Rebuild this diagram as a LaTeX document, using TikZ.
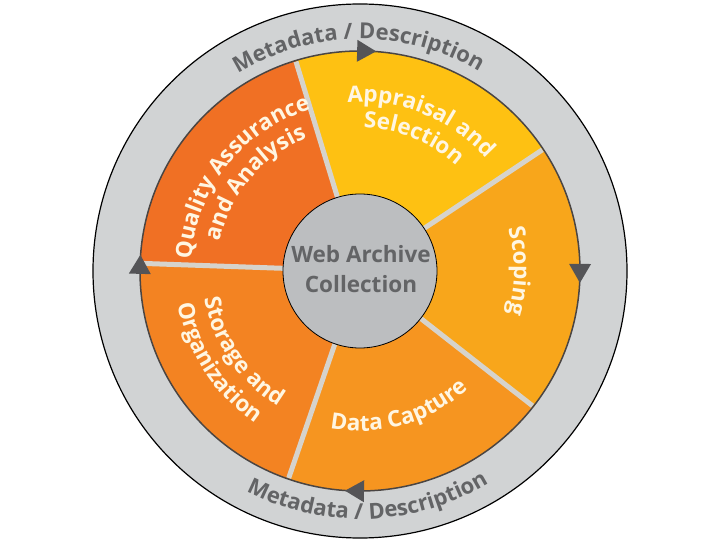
\documentclass[tikz,border=0pt]{standalone}
\usepackage{fontspec}
\setmainfont{Open Sans}
\usetikzlibrary{decorations.text}
\definecolor{ringgray}{HTML}{D1D3D4}
\definecolor{coregray}{HTML}{BCBEC0}
\definecolor{textgray}{HTML}{636466}
\definecolor{arrowgray}{HTML}{545457}
\definecolor{wheelline}{HTML}{4A4543}
\definecolor{sepgray}{HTML}{D6D3CC}
\definecolor{apprcol}{HTML}{FEC112}
\definecolor{scopcol}{HTML}{F8A61B}
\definecolor{captcol}{HTML}{F69520}
\definecolor{storcol}{HTML}{F38322}
\definecolor{qacol}{HTML}{F07024}
\definecolor{labeltext}{HTML}{FFF6E2}
\newcommand\mylblfont{\bfseries\fontsize{22.5}{22.5}\selectfont}
\newcommand\myringfont{\bfseries\fontsize{22}{22}\selectfont}
\tikzset{
  sepline/.style={draw=sepgray, line width=5pt},
  cyclearrow/.style={fill=arrowgray},
  lbl/.style={decorate, decoration={text along path, text align=center, text color=labeltext}},
  ringlbl/.style={decorate, decoration={text along path, text align=center, text color=textgray}}
}
\begin{document}
\begin{tikzpicture}[x=1pt,y=1pt]
\useasboundingbox (-360,-269) rectangle (360,271);
\fill[white] (-360,-269) rectangle (360,271);
% outer ring
\draw[black, line width=1.2pt, fill=ringgray] (0,0) circle (267);
% sectors
\fill[apprcol] (0,0) -- (33.6:220) arc[start angle=33.6, end angle=107, radius=220] -- cycle;
\fill[qacol] (0,0) -- (107:220) arc[start angle=107, end angle=178, radius=220] -- cycle;
\fill[storcol] (0,0) -- (178:220) arc[start angle=178, end angle=251, radius=220] -- cycle;
\fill[captcol] (0,0) -- (251:220) arc[start angle=251, end angle=322, radius=220] -- cycle;
\fill[scopcol] (0,0) -- (322:220) arc[start angle=322, end angle=393.6, radius=220] -- cycle;
% separators
\foreach \a in {33.6,107,178,251,322} \draw[sepline] (\a:70) -- (\a:219);
% wheel outline
\draw[wheelline, line width=1.5pt] (0,0) circle (220);
% cycle arrows
\foreach \a in {88.4,-0.5,268.7,178.4}
  \fill[cyclearrow, shift={(\a:220)}, rotate=\a-90] (10,0) -- (-9,11) -- (-9,-11) -- cycle;
% core
\node[circle, draw=black, line width=0.8pt, fill=coregray, minimum size=154pt, inner sep=0pt] (core) at (0,0) {};
\node[anchor=base, text=textgray, font=\mylblfont, inner sep=0pt] (core1) at (1,8) {Web Archive};
\node[anchor=base, text=textgray, font=\mylblfont, inner sep=0pt] (core2) at (1,-22) {Collection};
% ring labels
\path[ringlbl, decoration={text={|\myringfont|Metadata / Description}}] (150.4:232) arc[start angle=150.4, end angle=30.4, radius=232];
\path[ringlbl, decoration={text={|\myringfont|Metadata / Description}}] (-148:248) arc[start angle=-148, end angle=-28, radius=248];
% sector labels
\path[lbl, decoration={text={|\mylblfont|Appraisal and}}] (138:169) arc[start angle=138, end angle=-2, radius=169];
\path[lbl, decoration={text={|\mylblfont|Selection}}] (138:143) arc[start angle=138, end angle=-2, radius=143];
\path[lbl, decoration={text={|\mylblfont|Quality Assurance}}] (211.5:169) arc[start angle=211.5, end angle=71.5, radius=169];
\path[lbl, decoration={text={|\mylblfont|and Analysis}}] (210:143) arc[start angle=210, end angle=70, radius=143];
\path[lbl, decoration={text={|\mylblfont|Scoping}}] (60:154) arc[start angle=60, end angle=-60, radius=154];
\path[lbl, decoration={text={|\mylblfont|Data Capture}}] (-134:160) arc[start angle=-134, end angle=-14, radius=160];
\path[lbl, decoration={text={|\mylblfont|Storage and}}] (154.5:158) arc[start angle=154.5, end angle=274.5, radius=158];
\path[lbl, decoration={text={|\mylblfont|Organization}}] (153:185) arc[start angle=153, end angle=273, radius=185];
\end{tikzpicture}
\end{document}
